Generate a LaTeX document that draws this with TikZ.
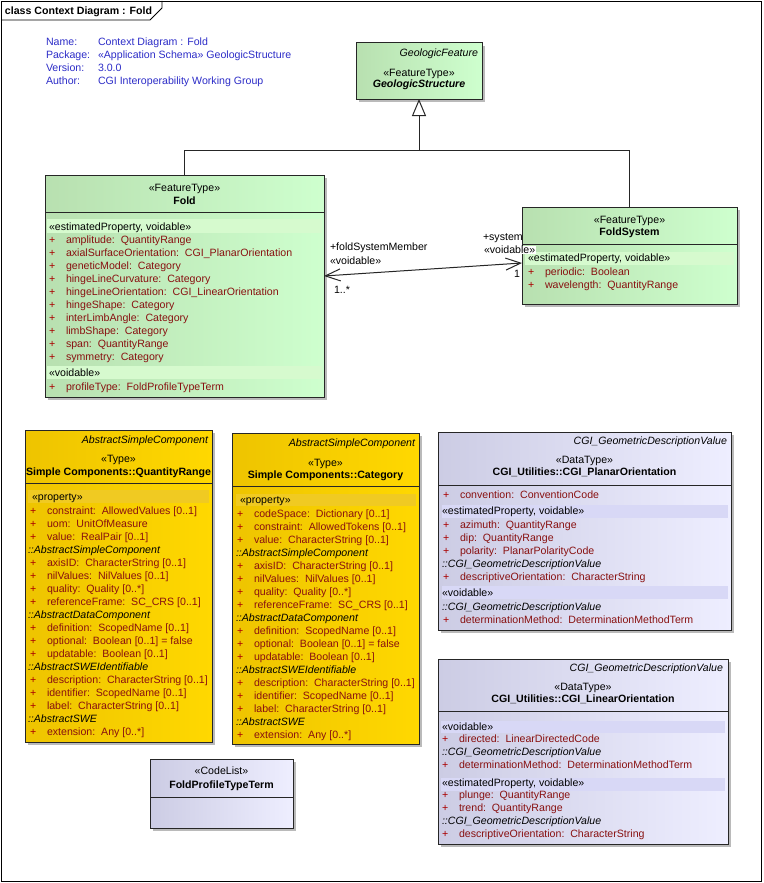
\documentclass[tikz,border=0pt]{standalone}
\usepackage{fontspec}
\setmainfont{Liberation Sans}
\usetikzlibrary{arrows.meta,shadows}
\definecolor{attrred}{RGB}{136,16,16}
\definecolor{plusred}{RGB}{170,0,0}
\definecolor{infoblue}{RGB}{45,45,200}
\definecolor{gL}{RGB}{184,224,176}
\definecolor{gR}{RGB}{206,255,206}
\definecolor{gBand}{RGB}{214,250,206}
\definecolor{yL}{RGB}{238,196,0}
\definecolor{yR}{RGB}{255,216,0}
\definecolor{yBand}{RGB}{240,202,34}
\definecolor{lL}{RGB}{204,204,228}
\definecolor{lR}{RGB}{238,238,255}
\definecolor{lBand}{RGB}{216,216,246}
\newcommand\dgfont{\fontsize{10.6}{13}\selectfont}
\newcounter{nn}
\newcommand\tx[4][]{\stepcounter{nn}\edef\nm{t\arabic{nn}}\node[txt,#1] (\nm) at (#2,#3) {#4};}
\newcommand\attrrow[4]{\tx[text=plusred]{#1}{#2}{+}\tx[text=attrred]{#1+17}{#2}{#3:\ \ #4}}
\newcommand\sectlbl[3]{\tx[font=\dgfont\itshape]{#1}{#2}{#3}}
\tikzset{
  txt/.style={font=\dgfont, inner sep=0pt, outer sep=0pt, anchor=base west},
  box/.style={draw=black!85, line width=1pt, inner sep=0pt, outer sep=0pt, anchor=north west,
    drop shadow={shadow xshift=3pt, shadow yshift=-3pt, fill=black!45, opacity=0.6}},
  gbox/.style={box, left color=gL, right color=gR},
  ybox/.style={box, left color=yL, right color=yR},
  lbox/.style={box, left color=lL, right color=lR},
  sep/.style={draw=black!85, line width=1pt},
  conn/.style={draw=black!85, line width=1pt},
  assoc/.style={conn, arrows={Straight Barb[length=15pt,width=12pt]-Straight Barb[length=15pt,width=12pt]}},
}
\begin{document}
\begin{tikzpicture}[x=1pt,y=-1pt]
\useasboundingbox (0,0) rectangle (763,883);
\fill[white] (0,0) rectangle (763,883);
% frame
\draw[line width=0.8pt] (1,1) rectangle (761.5,881.5);
\draw[line width=0.8pt] (1,20) -- (150,20) -- (162,8) -- (162,1);
\tx[font=\dgfont\bfseries]{5}{15}{class Context Diagram : Fold}
% info
\tx[text=infoblue]{46}{45.5}{Name:}
\tx[text=infoblue]{98}{45.5}{Context Diagram : Fold}
\tx[text=infoblue]{46}{58.5}{Package:}
\tx[text=infoblue]{98}{58.5}{«Application Schema» GeologicStructure}
\tx[text=infoblue]{46}{71.5}{Version:}
\tx[text=infoblue]{98}{71.5}{3.0.0}
\tx[text=infoblue]{46}{84.5}{Author:}
\tx[text=infoblue]{98}{84.5}{CGI Interoperability Working Group}

% GeologicStructure
\node[gbox, minimum width=126pt, minimum height=56pt] (geo) at (356,43) {};
\tx[font=\dgfont\itshape, anchor=base east]{478}{56.5}{GeologicFeature}
\tx[anchor=base]{419}{76.5}{«FeatureType»}
\tx[font=\dgfont\bfseries\itshape, anchor=base]{419}{88}{GeologicStructure}

% Fold
\node[gbox, minimum width=279pt, minimum height=222pt] (fold) at (45,175) {};
\draw[sep] (45,212) -- (324,212);
\tx[anchor=base]{184.5}{191}{«FeatureType»}
\tx[font=\dgfont\bfseries, anchor=base]{184.5}{204}{Fold}
\fill[gBand] (47,219) rectangle (322,233);
\tx{49}{230}{«estimatedProperty, voidable»}
\attrrow{49}{243.5}{amplitude}{QuantityRange}
\attrrow{49}{256.5}{axialSurfaceOrientation}{CGI\_PlanarOrientation}
\attrrow{49}{269.5}{geneticModel}{Category}
\attrrow{49}{282.5}{hingeLineCurvature}{Category}
\attrrow{49}{295.5}{hingeLineOrientation}{CGI\_LinearOrientation}
\attrrow{49}{308.5}{hingeShape}{Category}
\attrrow{49}{321.5}{interLimbAngle}{Category}
\attrrow{49}{334.5}{limbShape}{Category}
\attrrow{49}{347.5}{span}{QuantityRange}
\attrrow{49}{360.5}{symmetry}{Category}
\fill[gBand] (47,366) rectangle (322,379);
\tx{49}{376.5}{«voidable»}
\attrrow{49}{390.5}{profileType}{FoldProfileTypeTerm}

% FoldSystem
\node[gbox, minimum width=215pt, minimum height=97pt] (foldsys) at (522,207) {};
\draw[sep] (522,244) -- (737,244);
\tx[anchor=base]{629.5}{223.5}{«FeatureType»}
\tx[font=\dgfont\bfseries, anchor=base]{629.5}{235.5}{FoldSystem}
\fill[gBand] (525,252) rectangle (734,265);
\tx{528}{261.5}{«estimatedProperty, voidable»}
\attrrow{528}{275}{periodic}{Boolean}
\attrrow{528}{288.5}{wavelength}{QuantityRange}

% generalization
\coordinate (junc) at (419,150);
\draw[conn] (fold.north) |- (junc);
\draw[conn] (foldsys.north) |- (junc);
\draw[conn, -{Triangle[open, length=17pt, width=14pt, fill=white]}] (junc) -- (geo.south);

% association
\draw[assoc] ([yshift=10pt]fold.east) -- ([yshift=-7.5pt]foldsys.west);
\tx{330}{250.5}{+foldSystemMember}
\tx{330}{264}{«voidable»}
\tx{334}{293.5}{1..*}
\tx{483}{240.5}{+system}
\tx[fill=white, inner xsep=1pt]{483}{253.5}{«voidable»}
\tx{514}{277.5}{1}

% QuantityRange
\node[ybox, minimum width=187pt, minimum height=312pt] (qr) at (25,430) {};
\draw[sep] (25,483) -- (212,483);
\tx[font=\dgfont\itshape, anchor=base east]{208}{443.5}{AbstractSimpleComponent}
\tx[anchor=base]{118.5}{462.5}{«Type»}
\tx[font=\dgfont\bfseries, anchor=base]{118.5}{475.5}{Simple Components::QuantityRange}
\fill[yBand] (28,490) rectangle (209,503);
\tx{32}{500.5}{«property»}
\attrrow{30}{514.5}{constraint}{AllowedValues [0..1]}
\attrrow{30}{527.5}{uom}{UnitOfMeasure}
\attrrow{30}{540.5}{value}{RealPair [0..1]}
\sectlbl{28}{553.5}{::AbstractSimpleComponent}
\attrrow{30}{566.5}{axisID}{CharacterString [0..1]}
\attrrow{30}{579.5}{nilValues}{NilValues [0..1]}
\attrrow{30}{592.5}{quality}{Quality [0..*]}
\attrrow{30}{605.5}{referenceFrame}{SC\_CRS [0..1]}
\sectlbl{28}{618.5}{::AbstractDataComponent}
\attrrow{30}{631.5}{definition}{ScopedName [0..1]}
\attrrow{30}{644.5}{optional}{Boolean [0..1] = false}
\attrrow{30}{657.5}{updatable}{Boolean [0..1]}
\sectlbl{28}{670.5}{::AbstractSWEIdentifiable}
\attrrow{30}{683.5}{description}{CharacterString [0..1]}
\attrrow{30}{696.5}{identifier}{ScopedName [0..1]}
\attrrow{30}{709.5}{label}{CharacterString [0..1]}
\sectlbl{28}{722.5}{::AbstractSWE}
\attrrow{30}{735.5}{extension}{Any [0..*]}

% Category
\node[ybox, minimum width=187pt, minimum height=311pt] (cat) at (232,433) {};
\draw[sep] (232,486) -- (419,486);
\tx[font=\dgfont\itshape, anchor=base east]{415}{446.5}{AbstractSimpleComponent}
\tx[anchor=base]{325.5}{466}{«Type»}
\tx[font=\dgfont\bfseries, anchor=base]{325.5}{478}{Simple Components::Category}
\fill[yBand] (236,494) rectangle (416,506);
\tx{240}{503.5}{«property»}
\attrrow{237}{517.5}{codeSpace}{Dictionary [0..1]}
\attrrow{237}{530.5}{constraint}{AllowedTokens [0..1]}
\attrrow{237}{543.5}{value}{CharacterString [0..1]}
\sectlbl{236}{556.5}{::AbstractSimpleComponent}
\attrrow{237}{569.5}{axisID}{CharacterString [0..1]}
\attrrow{237}{582.5}{nilValues}{NilValues [0..1]}
\attrrow{237}{595.5}{quality}{Quality [0..*]}
\attrrow{237}{608.5}{referenceFrame}{SC\_CRS [0..1]}
\sectlbl{236}{621.5}{::AbstractDataComponent}
\attrrow{237}{634.5}{definition}{ScopedName [0..1]}
\attrrow{237}{647.5}{optional}{Boolean [0..1] = false}
\attrrow{237}{660.5}{updatable}{Boolean [0..1]}
\sectlbl{236}{673.5}{::AbstractSWEIdentifiable}
\attrrow{237}{686.5}{description}{CharacterString [0..1]}
\attrrow{237}{699.5}{identifier}{ScopedName [0..1]}
\attrrow{237}{712.5}{label}{CharacterString [0..1]}
\sectlbl{236}{725.5}{::AbstractSWE}
\attrrow{237}{738.5}{extension}{Any [0..*]}

% PlanarOrientation
\node[lbox, minimum width=293pt, minimum height=198pt] (planar) at (438,432) {};
\draw[sep] (438,485) -- (731,485);
\tx[font=\dgfont\itshape, anchor=base east]{727}{444.5}{CGI\_GeometricDescriptionValue}
\tx[anchor=base]{584.5}{463.5}{«DataType»}
\tx[font=\dgfont\bfseries, anchor=base]{584.5}{475.5}{CGI\_Utilities::CGI\_PlanarOrientation}
\attrrow{443}{498.5}{convention}{ConventionCode}
\fill[lBand] (442,505) rectangle (728,518);
\tx{442}{514.5}{«estimatedProperty, voidable»}
\attrrow{443}{528.5}{azimuth}{QuantityRange}
\attrrow{443}{541.5}{dip}{QuantityRange}
\attrrow{443}{554.5}{polarity}{PlanarPolarityCode}
\sectlbl{442}{567.5}{::CGI\_GeometricDescriptionValue}
\attrrow{443}{580.5}{descriptiveOrientation}{CharacterString}
\fill[lBand] (442,586) rectangle (728,599);
\tx{442}{596.5}{«voidable»}
\sectlbl{442}{610.5}{::CGI\_GeometricDescriptionValue}
\attrrow{443}{623.5}{determinationMethod}{DeterminationMethodTerm}

% LinearOrientation
\node[lbox, minimum width=290pt, minimum height=185pt] (linear) at (438,659) {};
\draw[sep] (438,711) -- (728,711);
\tx[font=\dgfont\itshape, anchor=base east]{723}{671.5}{CGI\_GeometricDescriptionValue}
\tx[anchor=base]{583}{690.5}{«DataType»}
\tx[font=\dgfont\bfseries, anchor=base]{583}{702.5}{CGI\_Utilities::CGI\_LinearOrientation}
\fill[lBand] (441,721) rectangle (725,733);
\tx{442}{730.5}{«voidable»}
\attrrow{442}{742}{directed}{LinearDirectedCode}
\sectlbl{442}{755}{::CGI\_GeometricDescriptionValue}
\attrrow{442}{768}{determinationMethod}{DeterminationMethodTerm}
\fill[lBand] (441,778) rectangle (725,791);
\tx{442}{786}{«estimatedProperty, voidable»}
\attrrow{442}{798}{plunge}{QuantityRange}
\attrrow{442}{811}{trend}{QuantityRange}
\sectlbl{442}{824}{::CGI\_GeometricDescriptionValue}
\attrrow{442}{837.5}{descriptiveOrientation}{CharacterString}

% FoldProfileTypeTerm
\node[lbox, minimum width=143pt, minimum height=69pt] (fptt) at (150,759) {};
\draw[sep] (150,797) -- (293,797);
\tx[anchor=base]{221.5}{774.5}{«CodeList»}
\tx[font=\dgfont\bfseries, anchor=base]{221.5}{788.5}{FoldProfileTypeTerm}
\end{tikzpicture}
\end{document}
